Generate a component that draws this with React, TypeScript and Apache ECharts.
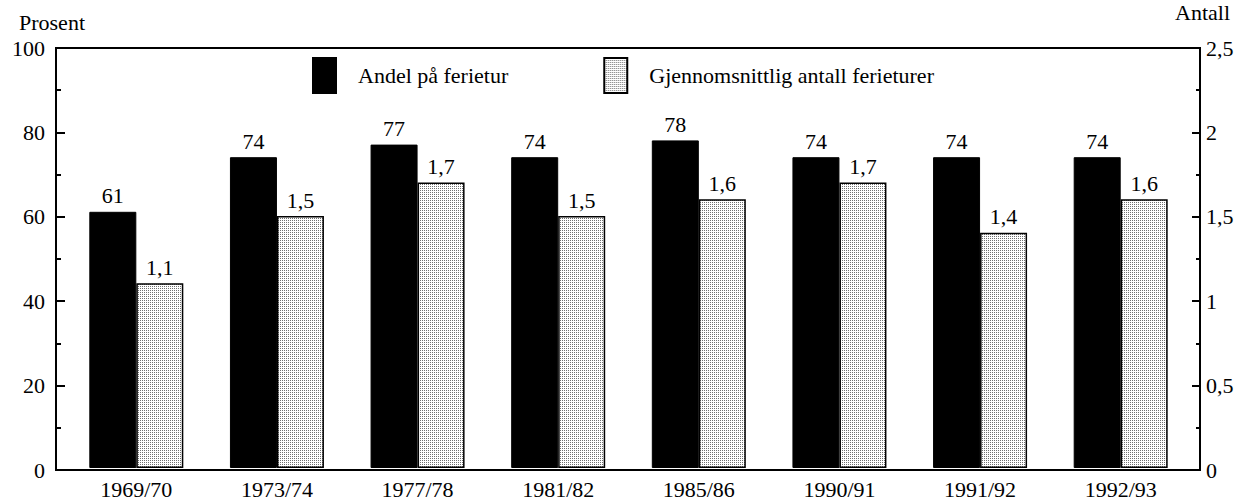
import React, { useEffect, useRef } from "react";
import * as echarts from "echarts";

const categories = ["1969/70", "1973/74", "1977/78", "1981/82", "1985/86", "1990/91", "1991/92", "1992/93"];
const andelPaFerietur = [61, 74, 77, 74, 78, 74, 74, 74];
const antallFerieturer = [1.1, 1.5, 1.7, 1.5, 1.6, 1.7, 1.4, 1.6];
const leftTicks = { min: 0, max: 100, interval: 20 };
const rightTicks = { min: 0, max: 2.5, interval: 0.5 };

const FONT = '"Liberation Serif", "Times New Roman", serif';
const comma = (v: number) => String(v).replace(".", ",");

function makeDots(): any {
  const c = document.createElement("canvas");
  c.width = 2;
  c.height = 2;
  const ctx = c.getContext("2d");
  if (!ctx) return "#d8d8d8";
  ctx.fillStyle = "#ffffff";
  ctx.fillRect(0, 0, 2, 2);
  ctx.fillStyle = "#707070";
  ctx.fillRect(0, 0, 1, 1);
  return { image: c, repeat: "repeat" };
}

export default function App() {
  const ref = useRef<HTMLDivElement>(null);
  useEffect(() => {
    document.body.style.margin = "0";
    const chart = echarts.init(ref.current!, null, { renderer: "svg" });
    const txt = { fontFamily: FONT, fontSize: 22, color: "#000" };
    const dots = makeDots();
    chart.setOption({
      animation: false,
      backgroundColor: "#fff",
      textStyle: { fontFamily: FONT },
      grid: [
        { left: 56, right: 41, top: 48, bottom: 30, show: true, borderColor: "#000", borderWidth: 2, backgroundColor: "transparent" },
        { left: 66, right: 50, top: 48, bottom: 30 },
      ],
      legend: {
        left: 307,
        top: 52,
        icon: "rect",
        itemWidth: 23,
        itemHeight: 35,
        itemGap: 95,
        textStyle: { ...txt, padding: [0, 0, 0, 17] },
        data: ["Andel på ferietur", "Gjennomsnittlig antall ferieturer"],
      },
      graphic: [
        { type: "text", left: 19, top: 11, style: { text: "Prosent", font: `22px ${FONT}`, fill: "#000" } },
        { type: "text", left: 1175, top: 1, style: { text: "Antall", font: `22px ${FONT}`, fill: "#000" } },
      ],
      xAxis: [
        { type: "category", gridIndex: 0, data: categories, show: false },
        {
          type: "category",
          gridIndex: 1,
          data: categories,
          axisLine: { show: false },
          axisTick: { show: false },
          axisLabel: { ...txt, margin: 10 },
        },
      ],
      yAxis: [
        {
          type: "value",
          gridIndex: 0,
          position: "left",
          ...leftTicks,
          splitLine: { show: false },
          axisLine: { show: true, lineStyle: { color: "#000", width: 2 } },
          axisTick: { show: true, inside: true, length: 9, lineStyle: { color: "#000", width: 2 } },
          minorTick: { show: true, splitNumber: 2, length: 5, lineStyle: { color: "#000", width: 2 } },
          axisLabel: { ...txt, margin: 11 },
        },
        {
          type: "value",
          gridIndex: 0,
          position: "right",
          ...rightTicks,
          splitLine: { show: false },
          axisLine: { show: true, lineStyle: { color: "#000", width: 2 } },
          axisTick: { show: true, inside: true, length: 8, lineStyle: { color: "#000", width: 2 } },
          minorTick: { show: true, splitNumber: 2, length: 4, lineStyle: { color: "#000", width: 2 } },
          axisLabel: { ...txt, margin: 6, formatter: (v: number) => comma(v) },
        },
        { type: "value", gridIndex: 1, ...leftTicks, show: false, splitLine: { show: false } },
        { type: "value", gridIndex: 1, ...rightTicks, show: false, splitLine: { show: false } },
      ],
      series: [
        {
          name: "Andel på ferietur",
          type: "bar",
          xAxisIndex: 1,
          yAxisIndex: 2,
          data: andelPaFerietur,
          barWidth: 47,
          barGap: "0%",
          itemStyle: { color: "#000", borderColor: "#000", borderWidth: 1 },
          label: { show: true, position: "top", distance: 5, ...txt },
        },
        {
          name: "Gjennomsnittlig antall ferieturer",
          type: "bar",
          xAxisIndex: 1,
          yAxisIndex: 3,
          data: antallFerieturer,
          barWidth: 47,
          barGap: "0%",
          itemStyle: { color: dots, borderColor: "#000", borderWidth: 1.5 },
          label: { show: true, position: "top", distance: 5, ...txt, formatter: (p: any) => comma(p.value) },
        },
      ],
    });
    return () => chart.dispose();
  }, []);
  return <div ref={ref} style={{ width: 1241, height: 500 }} />;
}
